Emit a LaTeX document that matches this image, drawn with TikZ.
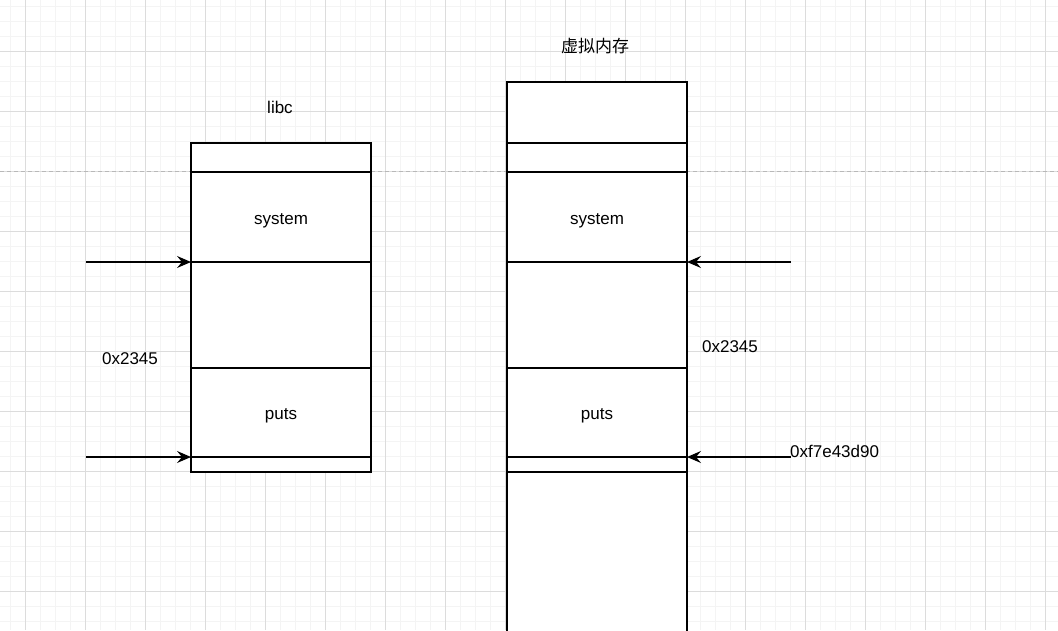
\documentclass[tikz,border=0pt]{standalone}
\usepackage{fontspec}
\setmainfont{Liberation Sans}
\newfontfamily\cjk{Noto Sans CJK SC}
\usetikzlibrary{positioning,arrows.meta}
\definecolor{minorgrid}{HTML}{F4F4F4}
\definecolor{majorgrid}{HTML}{DCDCDC}
\definecolor{guide}{HTML}{B8B8B8}
\newcommand{\celltext}[1]{\raisebox{-7pt}[0pt][0pt]{#1}}
\tikzset{
  cell/.style={draw=black, line width=1.2pt, fill=white, minimum width=180pt,
    inner sep=0pt, outer sep=0pt, font=\fontsize{17}{20}\selectfont},
  ptr/.style={line width=1.2pt, -{Stealth[length=14pt,width=12pt,inset=5pt]}},
  lbl/.style={font=\fontsize{17}{20}\selectfont, inner sep=0pt}
}

\begin{document}
\begin{tikzpicture}[x=1pt, y=-1pt]
  \useasboundingbox[fill=white] (0,0) rectangle (1058,630);
  %% grid
  \foreach \x in {10,25,...,1058} \draw[minorgrid] (\x,0) -- (\x,630);
  \foreach \y in {6,21,...,630} \draw[minorgrid] (0,\y) -- (1058,\y);
  \foreach \x in {25,85,...,1058} \draw[majorgrid] (\x,0) -- (\x,630);
  \foreach \y in {51,111,...,630} \draw[majorgrid] (0,\y) -- (1058,\y);
  \draw[guide, dash pattern=on 4pt off 3pt] (0,171) -- (1058,171);
  %% libc
  \node[cell, anchor=north west, minimum height=29pt] (ltop) at (191,143) {};
  \node[cell, minimum height=90pt, below=0pt of ltop] (lsys) {\celltext{system}};
  \node[cell, minimum height=106pt, below=0pt of lsys] (lgap) {};
  \node[cell, minimum height=89pt, below=0pt of lgap] (lputs) {\celltext{puts}};
  \node[cell, minimum height=15pt, below=0pt of lputs] (lend) {};
  \node[lbl] (ltitle) at (280,107) {libc};
  %% virtual memory
  \node[cell, anchor=north west, minimum height=61pt] (rtop) at (507,82) {};
  \node[cell, minimum height=29pt, below=0pt of rtop] (rseg) {};
  \node[cell, minimum height=90pt, below=0pt of rseg] (rsys) {\celltext{system}};
  \node[cell, minimum height=106pt, below=0pt of rsys] (rgap) {};
  \node[cell, minimum height=89pt, below=0pt of rgap] (rputs) {\celltext{puts}};
  \node[cell, minimum height=15pt, below=0pt of rputs] (rend) {};
  \node[cell, minimum height=180pt, below=0pt of rend] (rrest) {};
  \node[lbl] (rtitle) at (595,46) {\cjk 虚拟内存};
  %%
  \coordinate (la) at (86,262);
  \coordinate (lb) at (86,457);
  \coordinate (ra) at (791,262);
  \coordinate (rb) at (791,457);
  \draw[ptr] (la) -- (la -| lsys.west);
  \draw[ptr] (lb) -- (lb -| lputs.west);
  \draw[ptr] (ra) -- (ra -| rsys.east);
  \draw[ptr] (rb) -- (rb -| rputs.east);
  %%
  \node[lbl] (loff) at (130,359) {0x2345};
  \node[lbl] (roff) at (730,347) {0x2345};
  \node[lbl, anchor=west] (raddr) at (790,451) {0xf7e43d90};
\end{tikzpicture}
\end{document}
